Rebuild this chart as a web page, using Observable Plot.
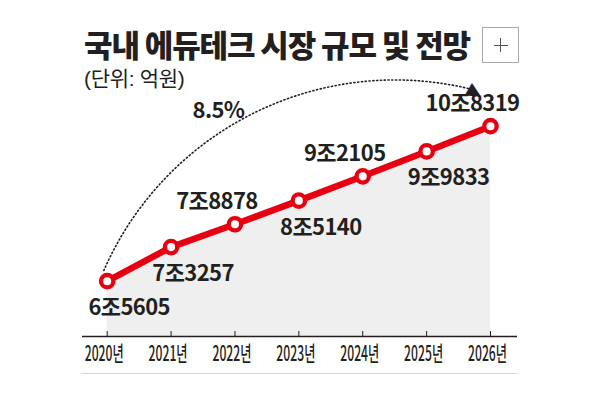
<!DOCTYPE html>
<html><head><meta charset="utf-8">
<script src="https://cdn.jsdelivr.net/npm/d3@7"></script>
<script src="https://cdn.jsdelivr.net/npm/@observablehq/plot@0.6"></script>
<style>
body{margin:0;background:#fff;}
#wrap{position:relative;width:593px;height:394px;overflow:hidden;font-family:"Noto Sans CJK KR",sans-serif;}
#title{position:absolute;left:84px;top:31px;font-family:"Liberation Sans","Noto Sans CJK KR",sans-serif;font-size:31px;font-weight:900;line-height:1;letter-spacing:-1.1px;word-spacing:-1.6px;color:#231f20;white-space:nowrap;}
#subtitle{position:absolute;left:84px;top:68px;font-family:"Liberation Sans","Noto Sans CJK KR",sans-serif;font-size:21px;line-height:1;letter-spacing:-0.3px;color:#231f20;white-space:nowrap;}
#plus{position:absolute;left:482px;top:27px;width:37px;height:36px;border:1px solid #aaa;box-sizing:border-box;}
#plus:before{content:"";position:absolute;left:11px;top:17px;width:14px;height:1px;background:#555;}
#plus:after{content:"";position:absolute;left:17px;top:10px;width:1px;height:14px;background:#555;}
#chart{position:absolute;left:0;top:0;}
</style></head>
<body><div id="wrap"><div id="chart"></div><div id="title">국내 에듀테크 시장 규모 및 전망</div><div id="subtitle">(단위: 억원)</div><div id="plus"></div></div>
<script>
// ---- data ----
const years = [2020, 2021, 2022, 2023, 2024, 2025, 2026];
const values = [65605, 73257, 78878, 85140, 92105, 99833, 108319]; // 억원
const growthLabel = "8.5%";
const yearSuffix = "년";

// ---- layout config ----
const aboveYears = [2022, 2024, 2026];
const yMin = 54856, yMax = 117713;
const fmt = v => `${Math.floor(v / 10000)}조${v % 10000}`;
const data = years.map((year, i) => ({year, value: values[i], label: fmt(values[i]), above: aboveYears.includes(year)}));
const arc = {x1: 2019.947, y1: 67916, x2: 2025.679, y2: 122217, hx: 2025.76, hy: 121000, tx: 2021.742, ty: 113966};
const ink = "#231f20", red = "#e60012";
const font = "'Noto Sans CJK KR', sans-serif";

const plot = Plot.plot({
  width: 593, height: 394,
  marginLeft: 82, marginRight: 76, marginTop: 100, marginBottom: 58,
  x: {domain: [2019.6133, 2026.4226]},
  y: {type: "log", domain: [yMin, yMax], axis: null},
  style: {fontFamily: font, background: "transparent", overflow: "visible"},
  marks: [
    Plot.areaY(data, {x: "year", y1: yMin, y2: "value", fill: "#efefef"}),
    Plot.ruleY([yMin], {stroke: ink, strokeWidth: 1.4}),
    Plot.ruleY([yMin], {stroke: "#d4d4d4", dy: 37}),
    Plot.ruleX(years, {x: d => d, y1: yMin, y2: yMin * Math.exp(5 / 309.1), stroke: ink}),
    Plot.axisX(years, {tickSize: 0, tickPadding: 10, dx: -3, tickFormat: d => `${d}${yearSuffix}`, fontSize: 21, fontWeight: 500, fill: ink}),
    Plot.arrow([arc], {x1: "x1", y1: "y1", x2: "x2", y2: "y2", bend: 40, headLength: 0, stroke: ink, strokeWidth: 1.6, strokeDasharray: "1.2 2.6"}),
    Plot.text([arc], {x: "hx", y: "hy", text: () => "▶", rotate: 30, fontSize: 19, fill: ink, fontFamily: "DejaVu Sans"}),
    Plot.text([arc], {x: "tx", y: "ty", text: () => growthLabel, fontSize: 22, fontWeight: 700, fill: ink}),
    Plot.line(data, {x: "year", y: "value", stroke: red, strokeWidth: 6.5}),
    Plot.dot(data, {x: "year", y: "value", r: 6.2, fill: "white", stroke: red, strokeWidth: 4.3}),
    Plot.text(data.filter(d => !d.above), {x: "year", y: "value", text: "label", dx: 22, dy: 27, fontSize: 22, fontWeight: 700, fill: ink}),
    Plot.text(data.filter(d => d.above), {x: "year", y: "value", text: "label", dx: -18, dy: -22, fontSize: 22, fontWeight: 700, fill: ink})
  ]
});
plot.querySelectorAll('g[aria-label="x-axis tick label"] text').forEach(t => {
  t.setAttribute("textLength", 39);
  t.setAttribute("lengthAdjust", "spacingAndGlyphs");
});
plot.querySelectorAll('g[aria-label="text"] text').forEach(t => { if (t.textContent !== "▶") t.setAttribute("letter-spacing", "-0.6"); });
document.getElementById("chart").appendChild(plot);
</script>
</body></html>
